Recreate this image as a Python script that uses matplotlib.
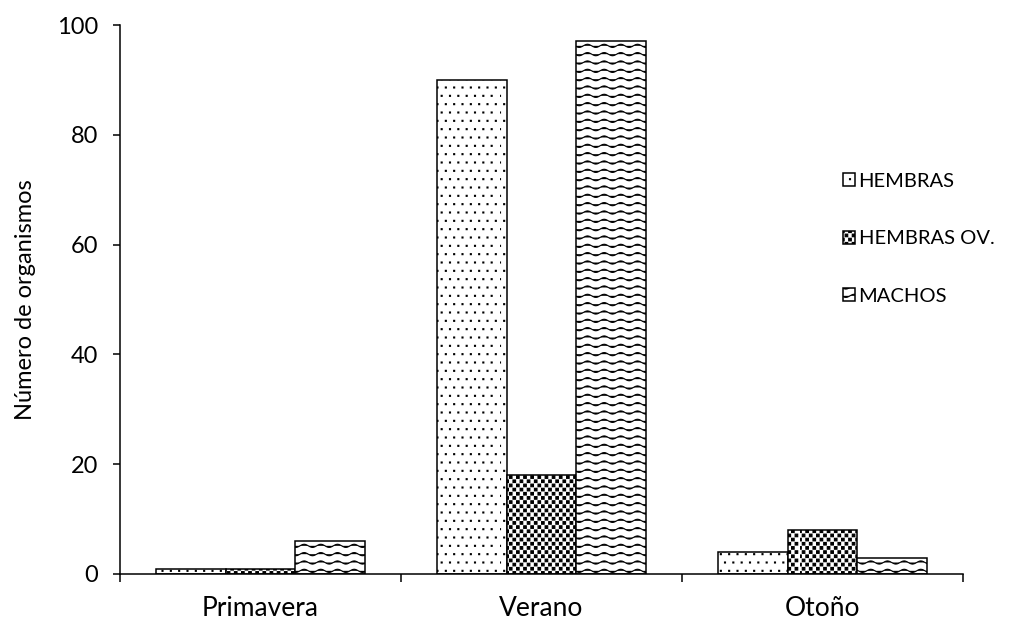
"""
Número de organismos por estación: hembras, hembras ovígeras y machos.
"""

import numpy as np
import matplotlib
matplotlib.use("Agg")
import matplotlib.pyplot as plt
from matplotlib import hatch as mhatch
from matplotlib.path import Path

estaciones = ["Primavera", "Verano", "Otoño"]
grupos = ["HEMBRAS", "HEMBRAS OV.", "MACHOS"]
hembras = [1, 90, 4]
hembras_ov = [1, 18, 8]
machos = [6, 97, 3]
yticks = [0, 20, 40, 60, 80, 100]


# extra hatch patterns: 'd' sparse dots, 'q' confetti squares, '~' waves
class _SquareGrid(mhatch.HatchPatternBase):
    char = None
    ncols = 12
    nrows = 12
    half = 0.005

    def __init__(self, hatch, density):
        self.on = self.char in hatch
        self.num_vertices = self.ncols * self.nrows * 5 if self.on else 0

    def centers(self):
        pts = []
        for r in range(self.nrows):
            shift = 0.5 if r % 2 else 0.0
            for c in range(self.ncols):
                pts.append(((c + shift) / self.ncols, (r + 0.5) / self.nrows))
        return pts

    def set_vertices_and_codes(self, vertices, codes):
        h = self.half
        sq = np.array([[-h, -h], [h, -h], [h, h], [-h, h], [-h, -h]])
        for i, (cx, cy) in enumerate(self.centers()):
            vertices[i * 5:(i + 1) * 5] = sq + (cx, cy)
            codes[i * 5] = Path.MOVETO
            codes[i * 5 + 1:i * 5 + 4] = Path.LINETO
            codes[i * 5 + 4] = Path.CLOSEPOLY


class DotHatch(_SquareGrid):
    char = "d"
    ncols = 12
    nrows = 12
    half = 0.005


class ConfettiHatch(_SquareGrid):
    char = "q"
    ncols = 14
    nrows = 24
    half = 0.013


class WaveHatch(mhatch.HatchPatternBase):
    rows = 12
    periods = 6
    steps = 72

    def __init__(self, hatch, density):
        self.on = "~" in hatch
        self.num_vertices = self.rows * (self.steps + 1) if self.on else 0

    def set_vertices_and_codes(self, vertices, codes):
        x = np.linspace(0, 1, self.steps + 1)
        amp = 0.016
        n = self.steps + 1
        for r in range(self.rows):
            y = (r + 0.5) / self.rows + amp * np.sin(2 * np.pi * self.periods * x)
            vertices[r * n:(r + 1) * n, 0] = x
            vertices[r * n:(r + 1) * n, 1] = y
            codes[r * n] = Path.MOVETO
            codes[r * n + 1:(r + 1) * n] = Path.LINETO


mhatch._hatch_types.extend([DotHatch, ConfettiHatch, WaveHatch])
_validate = mhatch._validate_hatch_pattern


def _validate_extra(hatch):
    if isinstance(hatch, str):
        hatch = hatch.translate(str.maketrans("", "", "dq~"))
    return _validate(hatch)


mhatch._validate_hatch_pattern = _validate_extra

plt.rcParams["font.family"] = ["Lato", "DejaVu Sans"]
plt.rcParams["font.size"] = 17
plt.rcParams["hatch.linewidth"] = 0.8

fig = plt.figure(figsize=(10.24, 6.25), dpi=100)
ax = fig.add_axes([120 / 1024, 1 - 574 / 625, 843 / 1024, 549 / 625])

x = np.arange(len(estaciones))
w = 0.249
series = [(hembras, "d"), (hembras_ov, "q"), (machos, "~")]
for i, ((vals, pat), name) in enumerate(zip(series, grupos)):
    ax.bar(x + (i - 1) * w, vals, w, color="white", edgecolor="black",
           linewidth=1.1, hatch=pat, label=name)

ax.set_xlim(-0.5, len(estaciones) - 0.5)
ax.set_ylim(0, 100)
ax.set_yticks(yticks)
ax.set_ylabel("Número de organismos", fontsize=17)
ax.yaxis.set_label_coords(-84 / 843, 0.5)

# category boundaries as major ticks, names as minor ticks
ax.set_xticks(np.arange(len(estaciones) + 1) - 0.5)
ax.set_xticklabels([])
ax.set_xticks(x, minor=True)
ax.set_xticklabels(estaciones, minor=True, fontsize=19)
ax.tick_params(axis="x", which="major", direction="out", length=6, width=1.1)
ax.tick_params(axis="x", which="minor", length=0, pad=16)
ax.tick_params(axis="y", direction="out", length=5, width=1.1, pad=11)

for side in ("top", "right"):
    ax.spines[side].set_visible(False)
for side in ("left", "bottom"):
    ax.spines[side].set_linewidth(1.1)

ax.legend(loc="upper left", bbox_to_anchor=(843 / 1024, 1 - 173 / 625),
          bbox_transform=fig.transFigure, frameon=False, borderpad=0,
          borderaxespad=0, handlelength=0.62, handleheight=0.62,
          handletextpad=0.15, labelspacing=2.0, fontsize=14.5)

fig.savefig("out.png", dpi=100)
